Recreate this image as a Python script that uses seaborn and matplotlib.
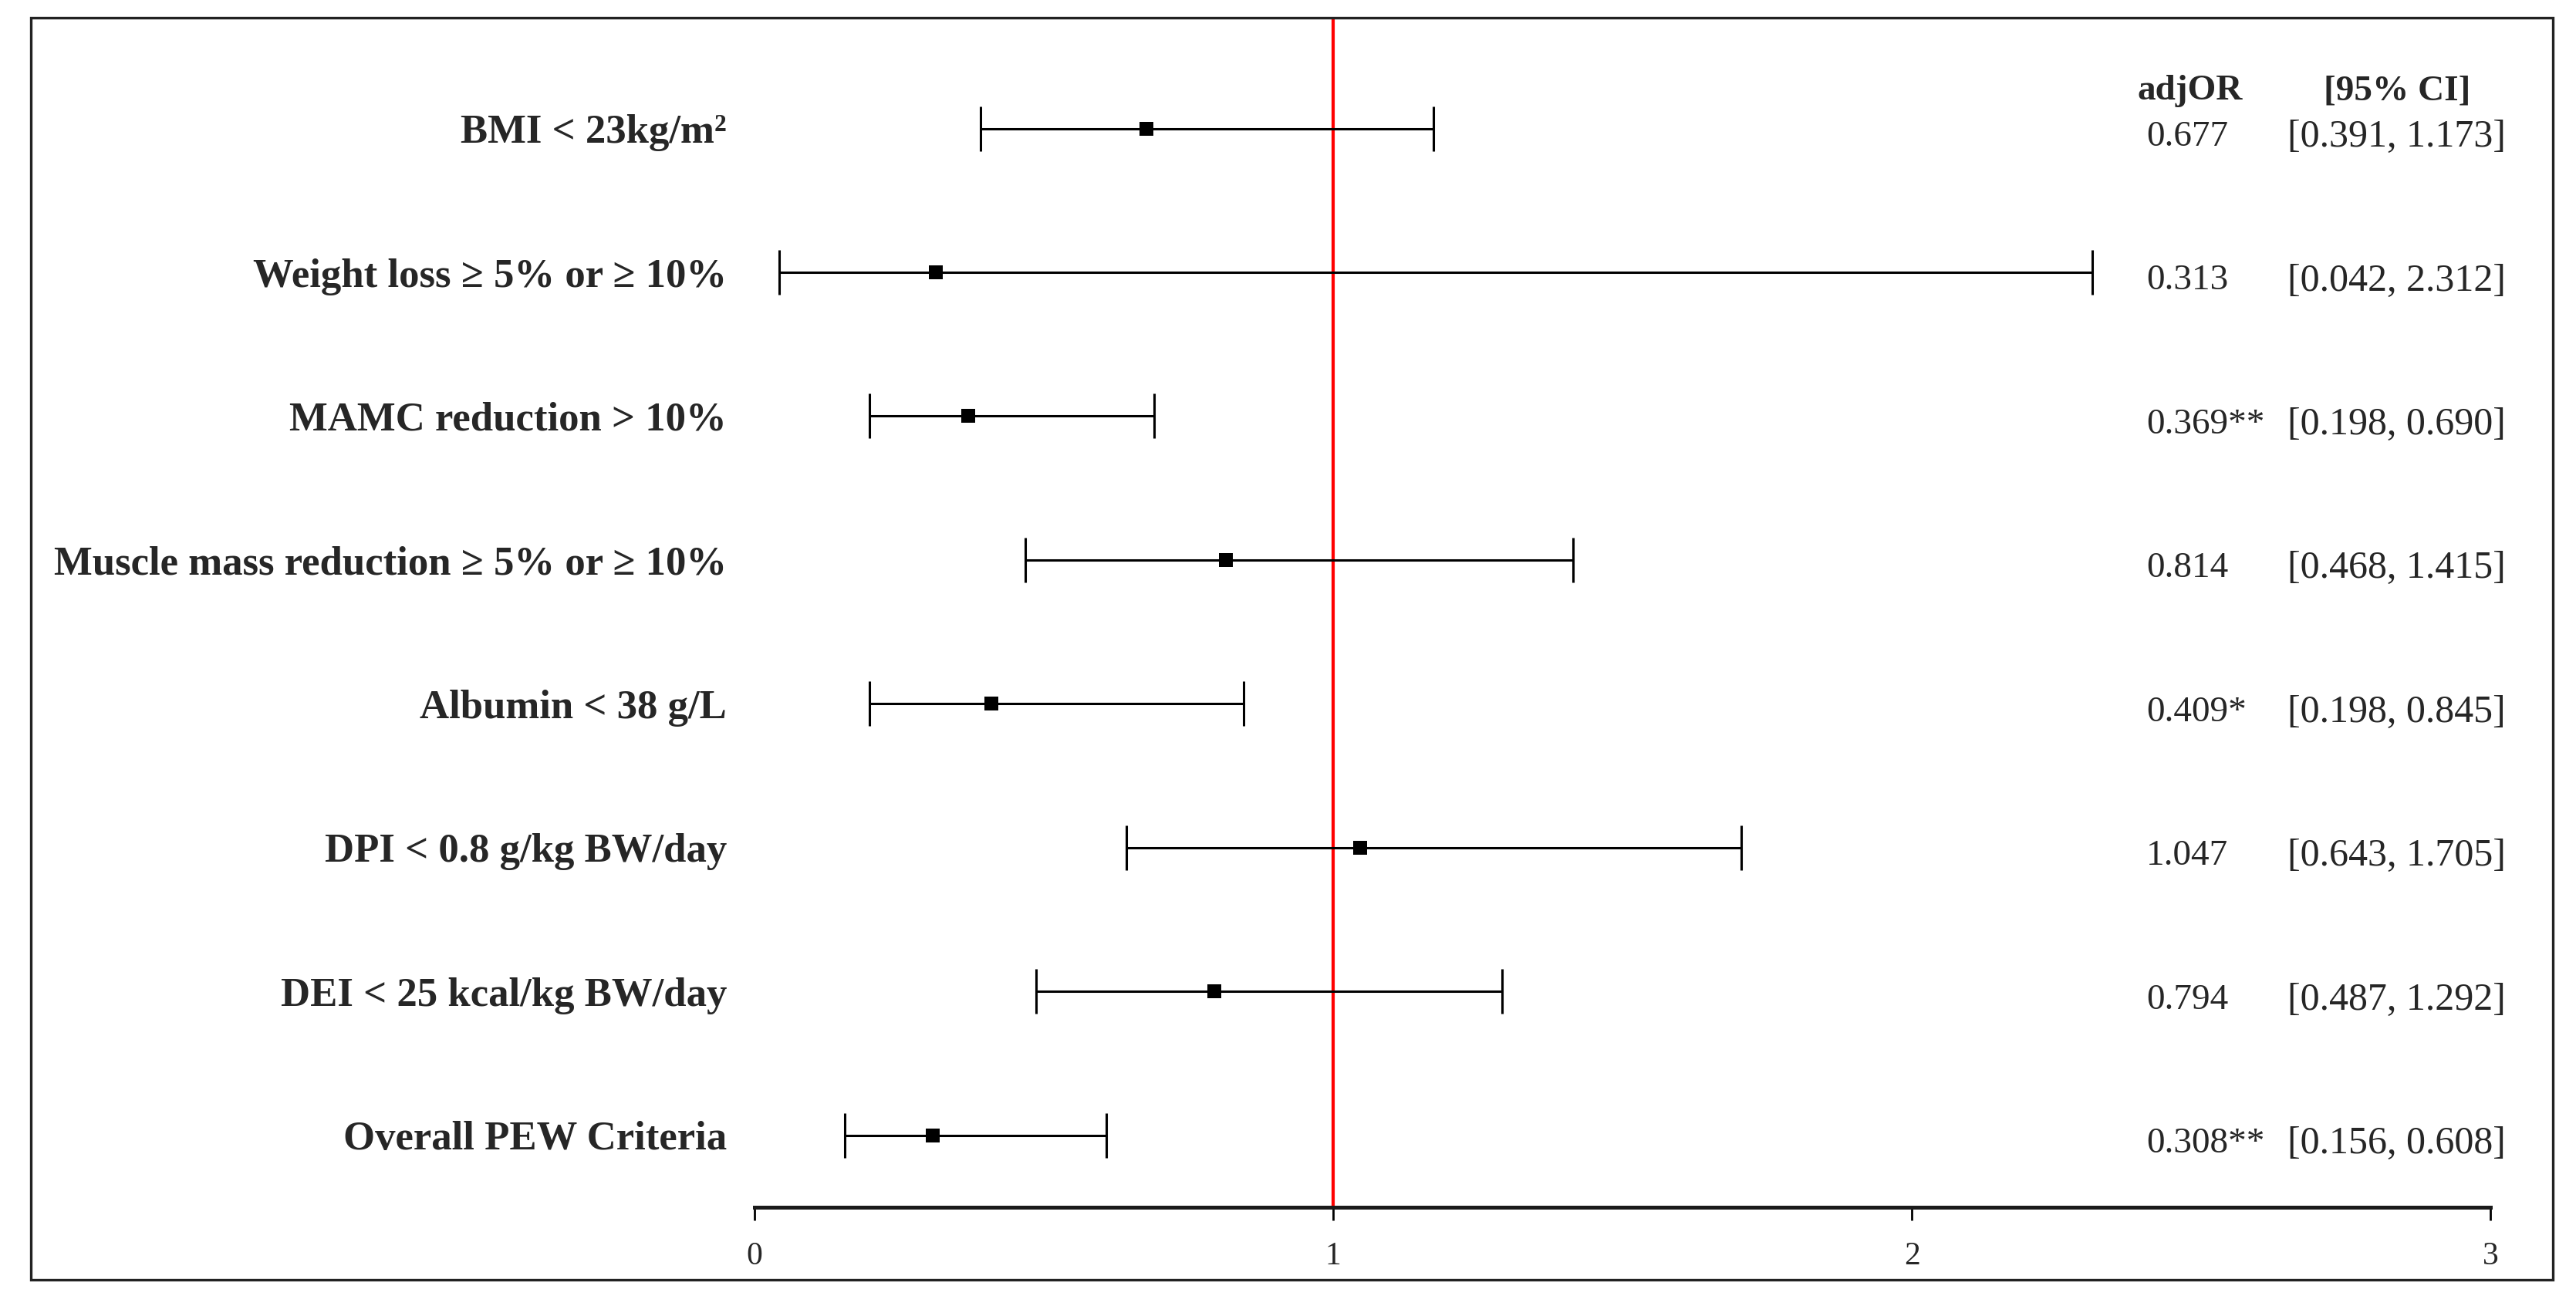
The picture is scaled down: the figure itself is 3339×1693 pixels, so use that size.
import matplotlib
matplotlib.use("Agg")
import matplotlib.pyplot as plt
import seaborn as sns
import numpy as np
from matplotlib.patches import Rectangle

# Dados do forest plot
labels = [
    "BMI < 23kg/m²",
    "Weight loss ≥ 5% or ≥ 10%",
    "MAMC reduction > 10%",
    "Muscle mass reduction ≥ 5% or ≥ 10%",
    "Albumin < 38 g/L",
    "DPI < 0.8 g/kg BW/day",
    "DEI < 25 kcal/kg BW/day",
    "Overall PEW Criteria",
]
adj_or = [0.677, 0.313, 0.369, 0.814, 0.409, 1.047, 0.794, 0.308]
ci_low = [0.391, 0.042, 0.198, 0.468, 0.198, 0.643, 0.487, 0.156]
ci_high = [1.173, 2.312, 0.690, 1.415, 0.845, 1.705, 1.292, 0.608]
signif = ["", "", "**", "", "*", "", "", "**"]
x_ticks = [0, 1, 2, 3]

sns.set_theme(style="white")
plt.rcParams['font.family'] = ['Liberation Serif', 'DejaVu Serif']

fig = plt.figure(figsize=(16.695, 8.465), dpi=200)
ax = fig.add_axes([978 / 3339, 1 - 1565 / 1693, 2250 / 3339, (1565 - 23) / 1693])

rows = np.arange(len(labels))
or_arr = np.array(adj_or)
xerr = [or_arr - np.array(ci_low), np.array(ci_high) - or_arr]

# linha de referência OR = 1
ax.axvline(1, color="#ff0000", lw=1.5, zorder=1)

ax.errorbar(adj_or, rows, xerr=xerr, fmt="none", ecolor="black",
            elinewidth=1.1, capsize=10.5, capthick=1.1, zorder=2)
sns.scatterplot(x=adj_or, y=rows, marker="s", s=45, color="black",
                edgecolor="black", linewidth=0, ax=ax, zorder=3)

ax.set_xlim(0, 3)
ax.set_ylim(len(labels) - 0.5, -0.77)
ax.set_xticks(x_ticks)
ax.set_xticklabels([str(t) for t in x_ticks], fontsize=15)
ax.set_yticks(rows)
ax.set_yticklabels(labels, fontsize=19, fontweight="bold")
ax.tick_params(axis="y", length=0, pad=13)
ax.tick_params(axis="x", direction="out", length=6, width=1, color="black",
               pad=10, bottom=True)

for side in ["left", "top", "right"]:
    ax.spines[side].set_visible(False)
ax.spines["bottom"].set_color("#1a1a1a")
ax.spines["bottom"].set_linewidth(1.8)

# colunas de texto à direita
x_or, x_ci = 2.405, 2.649
ax.text(x_or + 0.076, -0.26, "adjOR", ha="center", va="center",
        fontsize=17, fontweight="bold")
ax.text(x_ci + 0.19, -0.26, "[95% CI]", ha="center", va="center",
        fontsize=17, fontweight="bold")
for i in range(len(labels)):
    ax.text(x_or, i + 0.06, f"{adj_or[i]:.3f}{signif[i]}", ha="left",
            va="center", fontsize=17)
    ax.text(x_ci, i + 0.06, f"[{ci_low[i]:.3f}, {ci_high[i]:.3f}]",
            ha="left", va="center", fontsize=18)

# moldura
fig.add_artist(Rectangle((40 / 3339, 1 - 1659 / 1693), (3309 - 40) / 3339,
                         (1659 - 23) / 1693, fill=False, lw=1.2,
                         edgecolor="#222222", transform=fig.transFigure))

fig.savefig("out.png", dpi=200)
